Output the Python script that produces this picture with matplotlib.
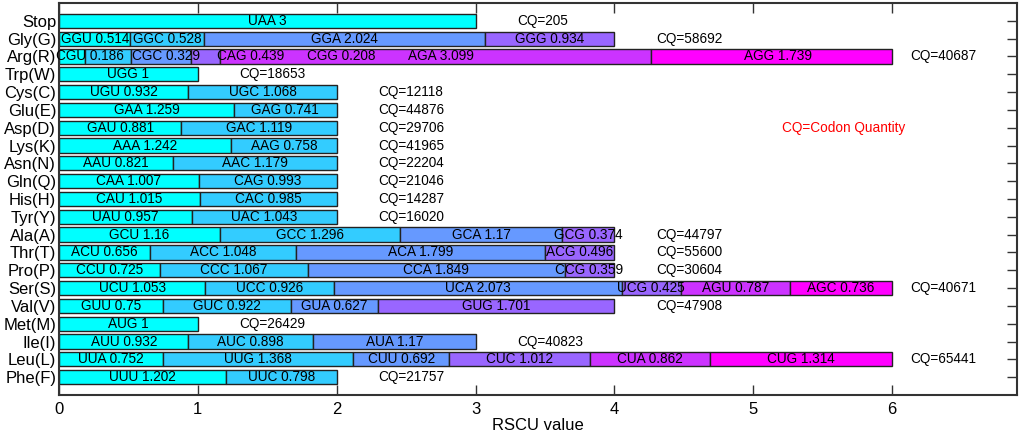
import matplotlib
matplotlib.use('Agg')
import matplotlib.pyplot as plt

plt.rcParams['font.family'] = ['Liberation Sans', 'DejaVu Sans']

# amino acids, top to bottom
amino_acids = ['Stop', 'Gly(G)', 'Arg(R)', 'Trp(W)', 'Cys(C)', 'Glu(E)', 'Asp(D)',
               'Lys(K)', 'Asn(N)', 'Gln(Q)', 'His(H)', 'Tyr(Y)', 'Ala(A)', 'Thr(T)',
               'Pro(P)', 'Ser(S)', 'Val(V)', 'Met(M)', 'Ile(I)', 'Leu(L)', 'Phe(F)']

codons = [
    ['UAA'],
    ['GGU', 'GGC', 'GGA', 'GGG'],
    ['CGU', 'CGC', 'CAG', 'CGG', 'AGA', 'AGG'],
    ['UGG'],
    ['UGU', 'UGC'],
    ['GAA', 'GAG'],
    ['GAU', 'GAC'],
    ['AAA', 'AAG'],
    ['AAU', 'AAC'],
    ['CAA', 'CAG'],
    ['CAU', 'CAC'],
    ['UAU', 'UAC'],
    ['GCU', 'GCC', 'GCA', 'GCG'],
    ['ACU', 'ACC', 'ACA', 'ACG'],
    ['CCU', 'CCC', 'CCA', 'CCG'],
    ['UCU', 'UCC', 'UCA', 'UCG', 'AGU', 'AGC'],
    ['GUU', 'GUC', 'GUA', 'GUG'],
    ['AUG'],
    ['AUU', 'AUC', 'AUA'],
    ['UUA', 'UUG', 'CUU', 'CUC', 'CUA', 'CUG'],
    ['UUU', 'UUC'],
]

rscu = [
    [3],
    [0.514, 0.528, 2.024, 0.934],
    [0.186, 0.329, 0.439, 0.208, 3.099, 1.739],
    [1],
    [0.932, 1.068],
    [1.259, 0.741],
    [0.881, 1.119],
    [1.242, 0.758],
    [0.821, 1.179],
    [1.007, 0.993],
    [1.015, 0.985],
    [0.957, 1.043],
    [1.16, 1.296, 1.17, 0.374],
    [0.656, 1.048, 1.799, 0.496],
    [0.725, 1.067, 1.849, 0.359],
    [1.053, 0.926, 2.073, 0.425, 0.787, 0.736],
    [0.75, 0.922, 0.627, 1.701],
    [1],
    [0.932, 0.898, 1.17],
    [0.752, 1.368, 0.692, 1.012, 0.862, 1.314],
    [1.202, 0.798],
]

codon_quantity = [205, 58692, 40687, 18653, 12118, 44876, 29706, 41965, 22204, 21046,
                  14287, 16020, 44797, 55600, 30604, 40671, 47908, 26429, 40823, 65441, 21757]

colors = ['#00FFFF', '#33CCFF', '#6699FF', '#9966FF', '#CC33FF', '#FF00FF']

# Arg labels are spread out in the original instead of centred
arg_label_x = [0.22, 0.77, 1.38, 2.03, 2.75, 5.18]

fig = plt.figure(figsize=(10.21, 4.34), dpi=100)
ax = fig.add_axes([0.0578, 0.0899, 0.9383, 0.9032])

for i, (name, cods, vals) in enumerate(zip(amino_acids, codons, rscu)):
    left = 0
    for j, (c, v) in enumerate(zip(cods, vals)):
        ax.barh(i, v, left=left, height=0.8, color=colors[j],
                edgecolor='#222222', linewidth=1)
        xt = left + v / 2
        if name == 'Arg(R)':
            xt = arg_label_x[j]
        ax.text(xt, i, f'{c} {v:g}', ha='center', va='center', fontsize=9.8)
        left += v
    xq = left + 0.3 if left < 5.9 else left + 0.13
    ax.text(xq, i, f'CQ={codon_quantity[i]}', ha='left', va='center', fontsize=9.8)

ax.text(5.21, 6, 'CQ=Codon Quantity', color='red', ha='left', va='center', fontsize=9.8)

ax.set_yticks(range(len(amino_acids)))
ax.set_yticklabels(amino_acids, fontsize=12)
ax.set_ylim(len(amino_acids), -1)
ax.set_xlim(0, 6.9)
ax.set_xticks(range(7))
ax.tick_params(axis='x', labelsize=12, pad=5)
ax.tick_params(direction='in', length=7, width=1, top=True, right=True, color='#333333')
ax.tick_params(axis='y', left=False, pad=2)
ax.set_xlabel('RSCU value', fontsize=12, labelpad=1)
for s in ax.spines.values():
    s.set_color('#333333')
    s.set_linewidth(1.5)

fig.savefig('out.png', dpi=100)
